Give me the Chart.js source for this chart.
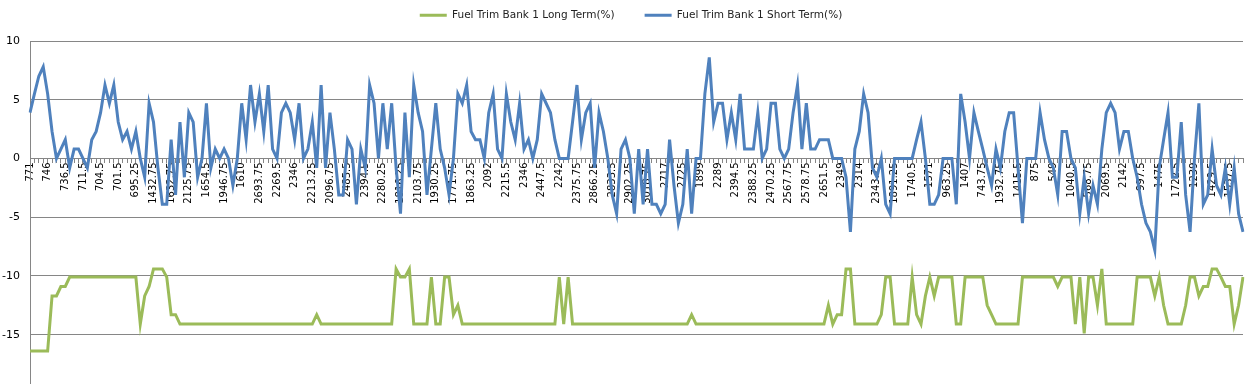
<!DOCTYPE html>
<html>
<head>
<meta charset="utf-8">
<title>Fuel Trim Bank 1</title>
<script src="https://cdn.jsdelivr.net/npm/chart.js@4.4.1/dist/chart.umd.min.js"></script>
<style>
  body { margin: 0; background: #fff; }
  #wrap { width: 1255px; height: 384px; }
</style>
</head>
<body>
<div id="wrap"><canvas id="fuelChart" width="1255" height="384"></canvas></div>
<script>
// labels shown on the category axis (one every 4 samples)
var rpmLabels = ['771', '746', '736.5', '711.5', '704.5', '701.5', '695.25', '1432.75', '1632.75', '2125.75',
    '1654.5', '1946.75', '1610', '2693.75', '2269.5', '2346', '2213.25', '2096.75', '2485.5', '2394.5',
    '2280.25', '1816.25', '2103.75', '1930.25', '1771.75', '1863.25', '2092', '2215.5', '2346', '2447.5',
    '2242', '2375.75', '2866.25', '2833.5', '2902.25', '3018.75', '2717', '2725', '1899', '2289',
    '2394.5', '2388.25', '2470.25', '2567.75', '2578.75', '2651.5', '2349', '2314', '2343.75', '1891.25',
    '1740.5', '1571', '963.25', '1407', '743.75', '1932.75', '1415.5', '875', '549', '1040.5',
    '568.75', '2069.5', '2142', '997.5', '1475', '1722.5', '1239', '1429.5', '1537.5'];
var samplesPerLabel = 4;

// Fuel Trim Bank 1 Long Term(%)
var longTerm = [
    -16.4, -16.4, -16.4, -16.4, -16.4, -11.7, -11.7, -10.9, -10.9, -10.1,
    -10.1, -10.1, -10.1, -10.1, -10.1, -10.1, -10.1, -10.1, -10.1, -10.1,
    -10.1, -10.1, -10.1, -10.1, -10.1, -14.1, -11.7, -10.9, -9.4, -9.4,
    -9.4, -10.1, -13.3, -13.3, -14.1, -14.1, -14.1, -14.1, -14.1, -14.1,
    -14.1, -14.1, -14.1, -14.1, -14.1, -14.1, -14.1, -14.1, -14.1, -14.1,
    -14.1, -14.1, -14.1, -14.1, -14.1, -14.1, -14.1, -14.1, -14.1, -14.1,
    -14.1, -14.1, -14.1, -14.1, -14.1, -13.3, -14.1, -14.1, -14.1, -14.1,
    -14.1, -14.1, -14.1, -14.1, -14.1, -14.1, -14.1, -14.1, -14.1, -14.1,
    -14.1, -14.1, -14.1, -9.4, -10.1, -10.1, -9.4, -14.1, -14.1, -14.1,
    -14.1, -10.1, -14.1, -14.1, -10.1, -10.1, -13.3, -12.5, -14.1, -14.1,
    -14.1, -14.1, -14.1, -14.1, -14.1, -14.1, -14.1, -14.1, -14.1, -14.1,
    -14.1, -14.1, -14.1, -14.1, -14.1, -14.1, -14.1, -14.1, -14.1, -14.1,
    -10.1, -14.1, -10.1, -14.1, -14.1, -14.1, -14.1, -14.1, -14.1, -14.1,
    -14.1, -14.1, -14.1, -14.1, -14.1, -14.1, -14.1, -14.1, -14.1, -14.1,
    -14.1, -14.1, -14.1, -14.1, -14.1, -14.1, -14.1, -14.1, -14.1, -14.1,
    -13.3, -14.1, -14.1, -14.1, -14.1, -14.1, -14.1, -14.1, -14.1, -14.1,
    -14.1, -14.1, -14.1, -14.1, -14.1, -14.1, -14.1, -14.1, -14.1, -14.1,
    -14.1, -14.1, -14.1, -14.1, -14.1, -14.1, -14.1, -14.1, -14.1, -14.1,
    -14.1, -12.5, -14.1, -13.3, -13.3, -9.4, -9.4, -14.1, -14.1, -14.1,
    -14.1, -14.1, -14.1, -13.3, -10.1, -10.1, -14.1, -14.1, -14.1, -14.1,
    -10.1, -13.3, -14.1, -11.7, -10.1, -11.7, -10.1, -10.1, -10.1, -10.1,
    -14.1, -14.1, -10.1, -10.1, -10.1, -10.1, -10.1, -12.5, -13.3, -14.1,
    -14.1, -14.1, -14.1, -14.1, -14.1, -10.1, -10.1, -10.1, -10.1, -10.1,
    -10.1, -10.1, -10.1, -10.9, -10.1, -10.1, -10.1, -14.1, -10.1, -14.9,
    -10.1, -10.1, -12.5, -9.4, -14.1, -14.1, -14.1, -14.1, -14.1, -14.1,
    -14.1, -10.1, -10.1, -10.1, -10.1, -11.7, -10.1, -12.5, -14.1, -14.1,
    -14.1, -14.1, -12.5, -10.1, -10.1, -11.7, -10.9, -10.9, -9.4, -9.4,
    -10.1, -10.9, -10.9, -14.1, -12.5, -10.1
];

// Fuel Trim Bank 1 Short Term(%)
var shortTerm = [
    3.9, 5.5, 7.0, 7.8, 5.5, 2.3, 0, 0.8, 1.6, -0.8,
    0.8, 0.8, 0, -0.8, 1.6, 2.3, 3.9, 6.25, 4.7, 6.25,
    3.1, 1.6, 2.3, 0.8, 2.3, 0, -1.6, 4.7, 3.1, -0.8,
    -3.9, -3.9, 1.6, -3.1, 3.1, -1.6, 3.9, 3.1, -1.6, 0,
    4.7, -0.8, 0.8, 0, 0.8, 0, -2.3, 0, 4.7, 1.6,
    6.25, 3.1, 5.5, 2.3, 6.25, 0.8, 0, 3.9, 4.7, 3.9,
    1.6, 4.7, 0, 0.8, 3.1, -0.8, 6.25, -0.8, 3.9, 0.8,
    -3.1, -3.1, 1.6, 0.8, -3.9, 0.8, -0.8, 6.25, 4.7, 0,
    4.7, 0.8, 4.7, -0.8, -4.7, 3.9, -1.6, 6.25, 3.9, 2.3,
    -3.1, 0.8, 4.7, 0.8, -0.8, -3.1, 0, 5.5, 4.7, 6.25,
    2.3, 1.6, 1.6, 0, 3.9, 5.5, 0.8, 0, 5.5, 3.1,
    1.6, 4.7, 0.8, 1.6, 0, 1.6, 5.5, 4.7, 3.9, 1.6,
    0, 0, 0, 3.1, 6.25, 1.6, 3.9, 4.7, -0.8, 3.9,
    2.3, 0, -3.1, -4.7, 0.8, 1.6, 0, -4.7, 0.8, -3.9,
    0.8, -3.9, -3.9, -4.7, -3.9, 1.6, -2.3, -5.5, -3.9, 0.8,
    -4.7, 0, 0, 5.5, 8.6, 3.1, 4.7, 4.7, 1.6, 3.9,
    1.6, 5.5, 0.8, 0.8, 0.8, 3.9, 0, 0.8, 4.7, 4.7,
    0.8, 0, 0.8, 3.9, 6.25, 0.8, 4.7, 0.8, 0.8, 1.6,
    1.6, 1.6, 0, 0, 0, -1.6, -6.25, 0.8, 2.3, 5.5,
    3.9, -0.8, -1.6, 0, -3.9, -4.7, 0, 0, 0, 0,
    0, 1.6, 3.1, 0, -3.9, -3.9, -3.1, 0, 0, 0,
    -3.9, 5.5, 3.1, 0, 3.9, 2.3, 0.8, -0.8, -2.3, 0.8,
    -0.8, 2.3, 3.9, 3.9, -0.8, -5.5, 0, 0, 0, 3.9,
    1.6, 0, -0.8, -3.1, 2.3, 2.3, 0, -0.8, -4.7, -1.6,
    -4.7, -2.3, -3.9, 0.8, 3.9, 4.7, 3.9, 0.8, 2.3, 2.3,
    0, -1.6, -3.9, -5.5, -6.25, -7.8, -0.8, 1.6, 3.9, -1.6,
    -1.6, 3.1, -3.1, -6.25, 0, 4.7, -3.9, -3.1, 0.8, -2.3,
    -3.1, -0.8, -3.9, -0.8, -4.7, -6.25
];

var yTicks = [-15, -10, -5, 0, 5, 10];

// one category per sample, only every 4th one carries a visible label
var categories = shortTerm.map(function(v, i) {
    return (i % samplesPerLabel === 0) ? (rpmLabels[i / samplesPerLabel] || '') : '';
});

var axisGrey = '#868686';

// legend block: pulled up with a negative top padding, plot starts at y=41
var legendHeight = {
    id: 'legendHeight',
    beforeInit: function(chart) {
        var fit = chart.legend.fit;
        chart.legend.fit = function() {
            fit.bind(chart.legend)();
            this.height = 41 + 20;
        };
    },
    afterLayout: function(chart) {
        // nudge the legend row a few pixels right
        chart.legend.left += 6;
        chart.legend.right += 6;
    }
};

var ctx = document.getElementById('fuelChart').getContext('2d');
var chart = new Chart(ctx, {
    type: 'line',
    data: {
        labels: categories,
        datasets: [{
            label: 'Fuel Trim Bank 1 Long Term(%)',
            data: longTerm,
            borderColor: '#9BBB59',
            backgroundColor: '#9BBB59',
            borderWidth: 3,
            pointRadius: 0,
            tension: 0
        }, {
            label: 'Fuel Trim Bank 1 Short Term(%)',
            data: shortTerm,
            borderColor: '#4F81BD',
            backgroundColor: '#4F81BD',
            borderWidth: 3,
            pointRadius: 0,
            tension: 0
        }]
    },
    options: {
        responsive: false,
        animation: false,
        devicePixelRatio: 1,
        layout: { padding: { left: 0, right: 5, top: -20, bottom: 0 } },
        plugins: {
            legend: {
                position: 'top',
                labels: {
                    color: '#222',
                    font: { family: 'DejaVu Sans', size: 10.5 },
                    boxWidth: 27,
                    boxHeight: 3,
                    padding: 30,
                    generateLabels: function(chart) {
                        var items = Chart.defaults.plugins.legend.labels.generateLabels(chart);
                        items.forEach(function(item) { item.lineWidth = 0; });
                        return items;
                    }
                }
            },
            tooltip: { enabled: false }
        },
        scales: {
            x: {
                position: { y: 0 },
                offset: false,
                grid: {
                    drawOnChartArea: false,
                    drawTicks: true,
                    tickLength: 4,
                    color: axisGrey
                },
                border: { color: axisGrey },
                ticks: {
                    autoSkip: false,
                    minRotation: 90,
                    maxRotation: 90,
                    padding: 0,
                    color: '#000',
                    font: { family: 'DejaVu Sans', size: 10 }
                }
            },
            y: {
                min: -19.2,
                max: 10,
                afterFit: function(scale) {
                    scale.width = 30;
                    // no extra room for the end labels, the plot runs to the canvas bottom
                    scale.paddingTop = 0;
                    scale.paddingBottom = 0;
                },
                afterBuildTicks: function(scale) {
                    scale.ticks = yTicks.map(function(v) { return { value: v }; });
                },
                grid: {
                    color: axisGrey,
                    drawTicks: false
                },
                border: { color: axisGrey },
                ticks: {
                    padding: 10,
                    color: '#000',
                    font: { family: 'DejaVu Sans', size: 11 }
                }
            }
        }
    },
    plugins: [legendHeight]
});
</script>
</body>
</html>
